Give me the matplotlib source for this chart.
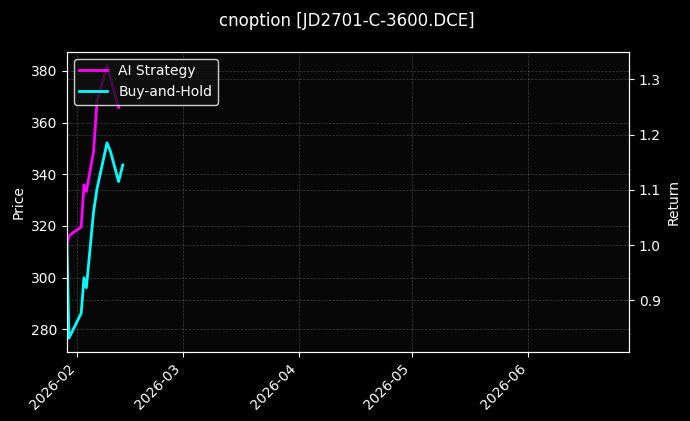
import matplotlib
matplotlib.use("Agg")
import matplotlib.pyplot as plt
import matplotlib.dates as mdates
import pandas as pd
import numpy as np

title = "cnoption [JD2701-C-3600.DCE]"
timestamps = ["2026-01-29 05:00", "2026-01-29 18:00", "2026-02-02 00:00", "2026-02-02 18:00",
              "2026-02-03 09:00", "2026-02-05 07:00", "2026-02-06 05:00", "2026-02-08 21:00",
              "2026-02-09 19:30", "2026-02-11 23:00", "2026-02-13 01:30"]
ai_strategy = [1.000, 1.017, 1.033, 1.109, 1.097, 1.169, 1.260, 1.325, 1.302, 1.249, np.nan]
buy_and_hold = [1.000, 0.832, 0.877, 0.941, 0.923, 1.060, 1.102, 1.185, 1.169, 1.115, 1.145]
price_limits = (271.3, 387.4)
x_end = "2026-06-27 18:00"

dates = pd.to_datetime(timestamps)

plt.style.use("dark_background")
fig = plt.figure(figsize=(6.9, 4.21), dpi=100)
fig.patch.set_facecolor("black")
ax1 = fig.add_axes([0.097, 0.1646, 0.8145, 0.7124])
ax1.set_facecolor("#070707")
ax2 = ax1.twinx()

ax1.set_ylim(*price_limits)
ax1.set_ylabel("Price", color="white", fontsize=10)
ax2.set_ylabel("Return", color="white", fontsize=10)

ax2.plot(dates, ai_strategy, color="#ff00ff", lw=2, label="AI Strategy")
ax2.plot(dates, buy_and_hold, color="#00ffff", lw=2, label="Buy-and-Hold")

ax1.set_xlim(dates[0], pd.Timestamp(x_end))
ax1.xaxis.set_major_locator(mdates.MonthLocator())
ax1.xaxis.set_major_formatter(mdates.DateFormatter("%Y-%m"))
for lbl in ax1.get_xticklabels():
    lbl.set_rotation(45)
    lbl.set_ha("right")

for ax in (ax1, ax2):
    ax.grid(True, color="gray", linestyle="--", linewidth=0.5, alpha=0.45)
    ax.tick_params(colors="white", labelsize=10)
    for s in ax.spines.values():
        s.set_color("white")

leg = ax2.legend(loc="upper left", fontsize=10, facecolor="#111111", edgecolor="white", framealpha=0.8)
for t in leg.get_texts():
    t.set_color("white")

fig.suptitle(title, color="white", fontsize=12, x=0.503, y=0.972)
fig.savefig("out.png", dpi=100, facecolor=fig.get_facecolor())
